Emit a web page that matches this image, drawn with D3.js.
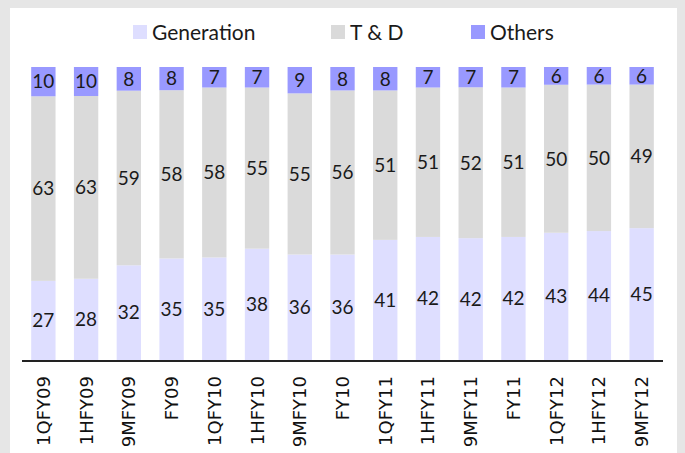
<!DOCTYPE html>
<html>
<head>
<meta charset="utf-8">
<script src="https://cdn.jsdelivr.net/npm/d3@7/dist/d3.min.js"></script>
<style>
  body { margin: 0; background: #e6e6e6; }
  svg { display: block; }
</style>
</head>
<body>
<svg width="685" height="453"></svg>
<script>
var periods = ["1QFY09", "1HFY09", "9MFY09", "FY09", "1QFY10", "1HFY10", "9MFY10", "FY10",
  "1QFY11", "1HFY11", "9MFY11", "FY11", "1QFY12", "1HFY12", "9MFY12"];
var generation = [27, 28, 32, 35, 35, 38, 36, 36, 41, 42, 42, 42, 43, 44, 45];
var td = [63, 63, 59, 58, 58, 55, 55, 56, 51, 51, 52, 51, 50, 50, 49];
var others = [10, 10, 8, 8, 7, 7, 9, 8, 8, 7, 7, 7, 6, 6, 6];
var seriesNames = ["Generation", "T & D", "Others"];

var colors = ["#dedeff", "#dadada", "#9999ff"];

var svg = d3.select("svg"),
  width = +svg.attr("width"),
  height = +svg.attr("height");

// white chart area
svg.append("rect")
  .attr("x", 10).attr("y", 8)
  .attr("width", 667).attr("height", height - 8)
  .attr("fill", "#fff");

var rows = periods.map(function (p, i) {
  return { period: p, "Generation": generation[i], "T & D": td[i], "Others": others[i] };
});

var stack = d3.stack().keys(seriesNames).offset(d3.stackOffsetExpand);
var layers = stack(rows);

var x = d3.scaleBand().domain(periods).range([22, 663]).paddingInner(0.43).paddingOuter(0.215);
var y = d3.scaleLinear().domain([0, 1]).range([360, 67]);

var layer = svg.append("g")
  .selectAll("g")
  .data(layers)
  .enter()
  .append("g")
  .attr("fill", function (d, i) { return colors[i]; });

layer.selectAll("rect")
  .data(function (d) { return d; })
  .enter()
  .append("rect")
  .attr("x", function (d) { return x(d.data.period); })
  .attr("y", function (d) { return y(d[1]); })
  .attr("width", x.bandwidth())
  .attr("height", function (d) { return y(d[0]) - y(d[1]); });

// value labels
layers.forEach(function (l) {
  svg.append("g")
    .selectAll("text")
    .data(l)
    .enter()
    .append("text")
    .attr("x", function (d) { return x(d.data.period) + x.bandwidth() / 2; })
    .attr("y", function (d) { return (y(d[0]) + y(d[1])) / 2; })
    .attr("dy", "0.36em")
    .attr("text-anchor", "middle")
    .style("font-family", "Lato, sans-serif")
    .style("font-size", "19px")
    .attr("fill", "#1a1a1a")
    .text(function (d) { return d.data[l.key]; });
});

// x axis
var xAxis = svg.append("g")
  .attr("transform", "translate(0,361)")
  .call(d3.axisBottom(x).tickSize(0).tickPadding(0));

xAxis.select(".domain")
  .attr("stroke", "#222")
  .attr("stroke-width", 2)
  .attr("d", "M22,0H663");

xAxis.selectAll("text")
  .attr("transform", "rotate(-90)")
  .attr("text-anchor", "end")
  .attr("x", -15)
  .attr("y", 0)
  .attr("dy", "0.36em")
  .style("font-family", "'DejaVu Sans', Verdana, sans-serif")
  .style("font-size", "18px")
  .attr("fill", "#111");

// legend
var legendX = [133, 331, 471];
var legend = svg.append("g")
  .selectAll("g")
  .data(seriesNames)
  .enter()
  .append("g")
  .attr("transform", function (d, i) { return "translate(" + legendX[i] + ",25)"; });

legend.append("rect")
  .attr("width", 14)
  .attr("height", 14)
  .attr("fill", function (d, i) { return colors[i]; });

legend.append("text")
  .attr("x", 19)
  .attr("y", 7)
  .attr("dy", "0.36em")
  .style("font-family", "Lato, sans-serif")
  .style("font-size", "21px")
  .attr("fill", "#1a1a1a")
  .text(function (d) { return d; });
</script>
</body>
</html>
